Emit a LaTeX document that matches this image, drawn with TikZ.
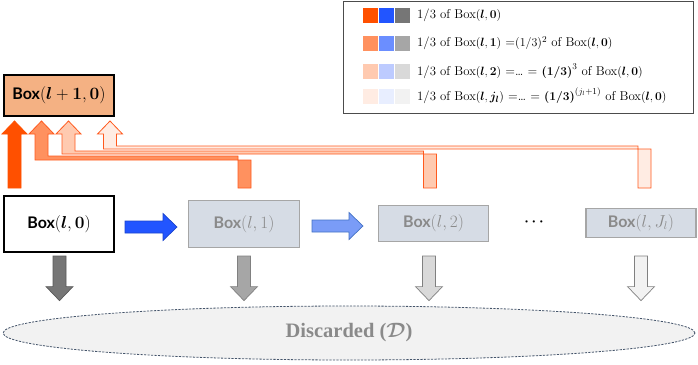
\documentclass[tikz,border=0pt]{standalone}
\usepackage{fontspec}
\usepackage{bm}
\setsansfont{Lato}
\newfontfamily\discfnt{Liberation Serif}
\usetikzlibrary{calc,shapes.geometric}

\definecolor{orA}{RGB}{255,80,0}
\definecolor{orB}{RGB}{255,145,95}
\definecolor{orC}{RGB}{255,202,176}
\definecolor{orD}{RGB}{255,236,227}
\definecolor{orLine}{RGB}{255,90,30}
\definecolor{blA}{RGB}{34,85,255}
\definecolor{blB}{RGB}{107,142,255}
\definecolor{blC}{RGB}{189,203,255}
\definecolor{blD}{RGB}{232,238,255}
\definecolor{blArr}{RGB}{122,156,247}
\definecolor{blLine}{RGB}{68,114,196}
\definecolor{grA}{RGB}{118,118,118}
\definecolor{grB}{RGB}{166,166,166}
\definecolor{grC}{RGB}{217,217,217}
\definecolor{grD}{RGB}{242,242,242}
\definecolor{boxFill}{RGB}{214,220,229}
\definecolor{boxText}{RGB}{138,138,138}
\definecolor{ellLine}{RGB}{68,84,106}
\definecolor{nextFill}{RGB}{244,177,131}

\newcommand\bentup[5]{%
  \draw[#1] ($(#3)+(-6.5,0)$) |- ($(#2)+(6.5,#4)$) -- ($(#2)+(6.5,13)$) -- ($(#2)+(12.5,13)$) -- (#2) -- ($(#2)+(-12.5,13)$) -- ($(#2)+(-6.5,13)$) -- ($(#2)+(-6.5,#5)$) -| ($(#3)+(6.5,0)$) -- cycle;}
\newcommand\straightup[3]{%
  \draw[#1] ($(#2)+(-6.5,0)$) -- ($(#3)+(-6.5,13)$) -- ($(#3)+(-12.5,13)$) -- (#3) -- ($(#3)+(12.5,13)$) -- ($(#3)+(6.5,13)$) -- ($(#2)+(6.5,0)$) -- cycle;}
\newcommand\blockdown[3]{%
  \draw[#1] ($(#2)+(-6.5,0)$) -- ($(#3)+(-6.5,-14)$) -- ($(#3)+(-13.5,-14)$) -- (#3) -- ($(#3)+(13.5,-14)$) -- ($(#3)+(6.5,-14)$) -- ($(#2)+(6.5,0)$) -- cycle;}
\newcommand\blockright[3]{%
  \draw[#1] ($(#2)+(0,-6)$) -- ($(#3)+(-14,-6)$) -- ($(#3)+(-14,-13.5)$) -- (#3) -- ($(#3)+(-14,13.5)$) -- ($(#3)+(-14,6)$) -- ($(#2)+(0,6)$) -- cycle;}

\begin{document}
\begin{tikzpicture}[x=1pt,y=-1pt,
  mainbox/.style={draw=black, line width=2.3pt, minimum width=110pt, inner sep=0pt, outer sep=0pt,
     font=\fontsize{16}{18}\selectfont},
  graybox/.style={draw=grB, line width=1.2pt, fill=boxFill, minimum width=110pt, inner sep=0pt, outer sep=0pt,
     text=boxText, font=\fontsize{16}{18}\selectfont},
  legtext/.style={anchor=west, inner sep=0pt, font=\fontsize{12.8}{14}\selectfont},
  uparr/.style={draw=orLine, line width=0.8pt, line join=miter},
  downarr/.style={line width=0.7pt, line join=miter},
  discstyle/.style={ellipse, draw=ellLine, dash pattern={on 2.2pt off 1.3pt}, line width=0.8pt, fill=grD,
     minimum width=692pt, minimum height=54pt, inner sep=0pt, text=boxText,
     font=\discfnt\bfseries\fontsize{20.5}{24}\selectfont},
]
\useasboundingbox (0,0) rectangle (698,364);

% legend
\node[draw=black!70, line width=1.2pt, fill=white, minimum width=349.8pt, minimum height=111.8pt, inner sep=0pt] (legend) at (518.5,57.5) {};
\fill[orA] (363,8) rectangle ++(15,15);
\fill[blA] (379,8) rectangle ++(15,15);
\fill[grA] (395,8) rectangle ++(15,15);
\fill[orB] (363,36) rectangle ++(15,15);
\fill[blB] (379,36) rectangle ++(15,15);
\fill[grB] (395,36) rectangle ++(15,15);
\fill[orC] (363,64) rectangle ++(15,15);
\fill[blC] (379,64) rectangle ++(15,15);
\fill[grC] (395,64) rectangle ++(15,15);
\fill[orD] (363,88.5) rectangle ++(15,15);
\fill[blD] (379,88.5) rectangle ++(15,15);
\fill[grD] (395,88.5) rectangle ++(15,15);
\node[legtext] (lt1) at (417,15.5) {1/3 of Box$(\bm{l},\bm{0})$};
\node[legtext] (lt2) at (417,43.5) {1/3 of Box$(\bm{l},\bm{1})$ =$(1/3)^2$ of Box$(\bm{l},\bm{0})$};
\node[legtext] (lt3) at (417,71.5) {1/3 of Box$(\bm{l},\bm{2})$ =\ldots{} = $\bm{(1/3)}^3$ of Box$(\bm{l},\bm{0})$};
\node[legtext] (lt4) at (417,96) {1/3 of Box$(\bm{l},\bm{j_l})$ =\ldots{} = $\bm{(1/3)}^{(j_l+1)}$ of Box$(\bm{l},\bm{0})$};

% boxes
\node[mainbox, fill=nextFill, minimum height=41pt] (b10) at (59,95.5) {{\sffamily\bfseries Box}$(\bm{l}+\bm{1},\bm{0})$};
\node[mainbox, fill=white, minimum height=56pt] (b0) at (59,224) {{\sffamily\bfseries Box}$(\bm{l},\bm{0})$};
\node[graybox, minimum width=111pt, minimum height=47pt] (b1) at (244,224) {{\sffamily\bfseries Box}$(l,1)$};
\node[graybox, minimum height=36pt] (b2) at (433.5,223.5) {{\sffamily\bfseries Box}$(l,2)$};
\node[graybox, minimum height=29pt] (bJ) at (641,223) {{\sffamily\bfseries Box}$(l,J_l)$};
\node[inner sep=0pt, font=\fontsize{14}{16}\selectfont] (dots) at (534,222) {$\bm{\cdots}$};

% discarded
\node[discstyle] (disc) at (349,333) {Discarded ($\bm{\mathcal{D}}$)};

% coordinates for orange arrows
\coordinate (u1b) at ($(b0.north west)+(10.5,-8)$);
\coordinate (u1t) at ($(b10.south west)+(10.5,5)$);
\coordinate (a2t) at ($(b10.south west)+(37.5,5)$);
\coordinate (a3t) at ($(b10.south west)+(64.5,5)$);
\coordinate (a4t) at ($(b10.south west)+(106,5)$);
\coordinate (a2s) at ($(b1.north)+(0.5,-12.5)$);
\coordinate (a3s) at ($(b2.north)+(-3.5,-17.5)$);
\coordinate (a4s) at ($(bJ.north)+(3.5,-20.5)$);

\bentup{uparr, fill=orD}{a4t}{a4s}{25}{28}
\bentup{uparr, fill=orC}{a3t}{a3s}{30}{33}
\bentup{uparr, fill=orB}{a2t}{a2s}{35}{39}
\straightup{uparr, fill=orA, draw=orA}{u1b}{u1t}

% blue arrows
\coordinate (r1s) at ($(b0.east)+(11,3)$);
\coordinate (r1t) at ($(b1.west)+(-11.5,3)$);
\coordinate (r2s) at ($(b1.east)+(12.5,2)$);
\coordinate (r2t) at ($(b2.west)+(-15.5,2.5)$);
\blockright{fill=blA, draw=blA!80!black, line width=0.7pt, line join=miter}{r1s}{r1t}
\blockright{fill=blArr, draw=blLine, line width=0.7pt, line join=miter}{r2s}{r2t}

% gray down arrows
\coordinate (d1s) at ($(b0.south)+(0.5,4)$);
\coordinate (d2s) at ($(b1.south)+(0,8.5)$);
\coordinate (d3s) at ($(b2.south)+(-4.5,14.5)$);
\coordinate (d4s) at ($(bJ.south)+(0,18.5)$);
\coordinate (d1t) at ($(d1s |- disc.north)+(0,-5)$);
\coordinate (d2t) at ($(d2s |- disc.north)+(0,-5)$);
\coordinate (d3t) at ($(d3s |- disc.north)+(0,-5)$);
\coordinate (d4t) at ($(d4s |- disc.north)+(0,-5)$);
\blockdown{downarr, fill=grA, draw=black!65}{d1s}{d1t}
\blockdown{downarr, fill=grB, draw=black!50}{d2s}{d2t}
\blockdown{downarr, fill=grC, draw=black!50}{d3s}{d3t}
\blockdown{downarr, fill=grD, draw=black!50}{d4s}{d4t}
\end{tikzpicture}
\end{document}
